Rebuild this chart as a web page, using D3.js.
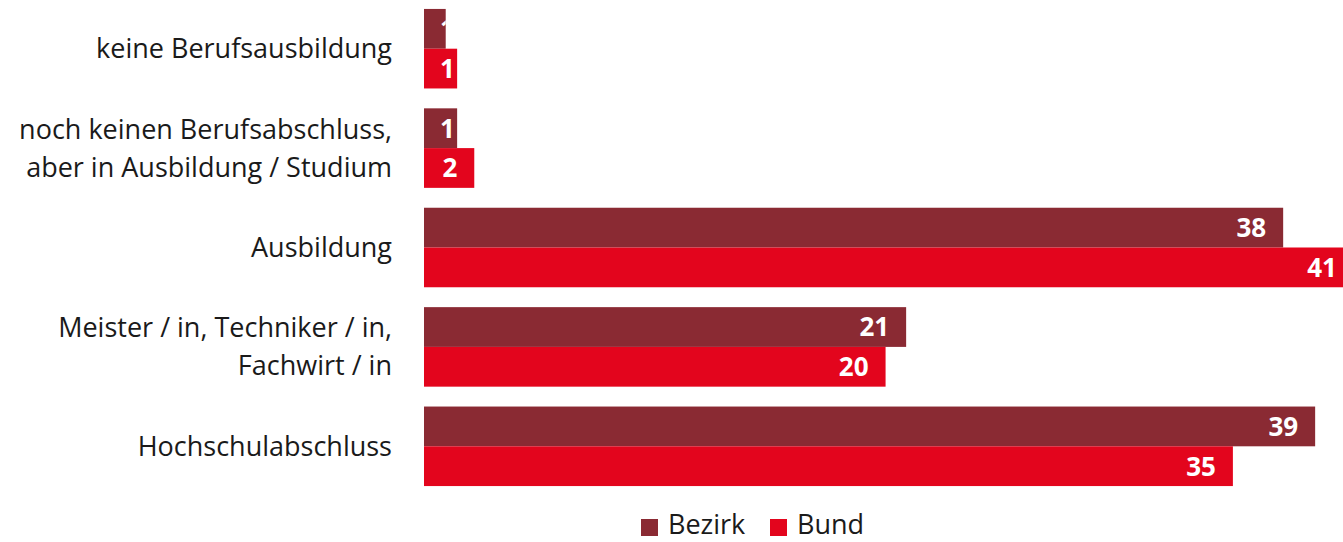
<!DOCTYPE html>
<html lang="de">
  <head>
    <meta charset="UTF-8" />
    <script src="https://d3js.org/d3.v7.min.js"></script>
    <style>
      body { margin: 0; background: #fff; }
      text { font-family: "Open Sans", sans-serif; }
    </style>
  </head>
  <body>
    <svg id="chart" width="1343" height="542"></svg>
    <script>
      // categories (top to bottom), each may span two lines
      const categories = [
        ["keine Berufsausbildung"],
        ["noch keinen Berufsabschluss,", "aber in Ausbildung / Studium"],
        ["Ausbildung"],
        ["Meister / in, Techniker / in,", "Fachwirt / in"],
        ["Hochschulabschluss"]
      ];
      const series = ["Bezirk", "Bund"];
      const colors = ["#8a2a33", "#e3051d"];
      // values in percent (labels show rounded numbers)
      const bezirk = [0.95, 1.45, 37.6, 21.1, 39.0];
      const bund = [1.45, 2.2, 40.7, 20.2, 35.4];

      const svg = d3.select("#chart");
      const keys = categories.map((c, i) => i);

      const x = d3.scaleLinear().domain([0, 40]).range([424, 424 + 40 * 22.85]);
      const y = d3.scaleBand().domain(keys).range([-1, 496])
        .paddingInner(0.2).paddingOuter(0.1);
      const ySub = d3.scaleBand().domain(series).range([0, y.bandwidth()]);

      const rows = keys.map(i => ({ i, values: [bezirk[i], bund[i]] }));

      const groups = svg.selectAll("g.group")
        .data(rows)
        .join("g")
        .attr("class", "group")
        .attr("transform", d => `translate(0,${y(d.i)})`);

      const cells = groups.selectAll("g.cell")
        .data(d => d.values.map((v, k) => ({ v, k })))
        .join("g")
        .attr("class", "cell");

      cells.append("rect")
        .attr("x", x(0))
        .attr("y", d => ySub(series[d.k]))
        .attr("width", d => x(d.v) - x(0))
        .attr("height", ySub.bandwidth())
        .attr("fill", d => colors[d.k]);

      // value labels, clipped to their bar
      cells.each(function (d) {
        const g = d3.select(this);
        const id = "clip-" + d3.select(this.parentNode).datum().i + "-" + d.k;
        g.append("clipPath").attr("id", id)
          .append("rect")
          .attr("x", x(0))
          .attr("y", ySub(series[d.k]))
          .attr("width", x(d.v) - x(0))
          .attr("height", ySub.bandwidth());
        const t = g.append("text")
          .attr("clip-path", `url(#${id})`)
          .attr("y", ySub(series[d.k]) + ySub.bandwidth() / 2)
          .attr("dy", "0.36em")
          .attr("text-anchor", "end")
          .attr("fill", "#fff")
          .attr("font-weight", "bold")
          .attr("font-size", 26)
          .text(Math.round(d.v));
        const w = t.node().getComputedTextLength();
        t.attr("x", Math.max(x(d.v) - 17, x(0) + 16 + w));
      });

      // category labels
      svg.append("g")
        .selectAll("text")
        .data(rows)
        .join("text")
        .attr("text-anchor", "end")
        .attr("font-size", 27)
        .attr("fill", "#1a1a1a")
        .attr("transform", d => `translate(392,${y(d.i) + y.bandwidth() / 2})`)
        .each(function (d) {
          const lines = categories[d.i];
          const lh = 38;
          d3.select(this).selectAll("tspan")
            .data(lines)
            .join("tspan")
            .attr("x", 0)
            .attr("y", (l, k) => (k - (lines.length - 1) / 2) * lh)
            .attr("dy", "0.35em")
            .text(l => l);
        });

      // legend
      const legend = svg.append("g").attr("transform", "translate(641,525)");
      const legX = [0, 129];
      series.forEach((s, k) => {
        const lg = legend.append("g").attr("transform", `translate(${legX[k]},0)`);
        lg.append("rect").attr("x", 0).attr("y", -6).attr("width", 17).attr("height", 17)
          .attr("fill", colors[k]);
        lg.append("text").attr("x", 27).attr("y", 0).attr("dy", "0.35em")
          .attr("font-size", 27).attr("fill", "#1a1a1a").text(s);
      });
    </script>
  </body>
</html>
